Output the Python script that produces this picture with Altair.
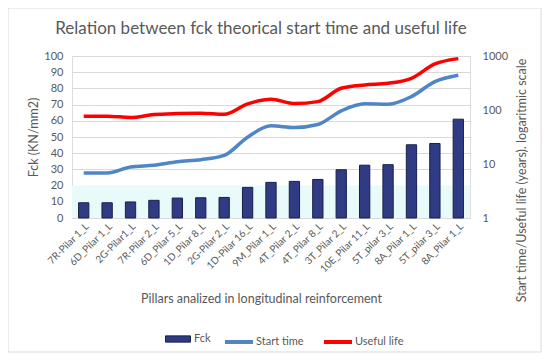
import json
import altair as alt
import pandas as pd

# ---- data ----
pillars = ["7R-Pilar 1_L", "6D_Pilar 1_L", "2G-Pilar1_L", "7R-Pilar 2_L", "6D_Pilar 5_L",
           "1D_Pilar 8_L", "2G-Pilar 2_L", "1D-Pilar 16_L", "9M_Pilar 1_L", "4T_Pilar 2_L",
           "4T_Pilar 8_L", "3T_Pilar 2_L", "10E_Pilar 11_L", "5T_pilar 3_L", "8A_Pilar 1_L",
           "5T_pilar 3_L", "8A_Pilar 1_L"]
fck = [9.4, 9.4, 9.9, 10.9, 12.3, 12.5, 12.7, 18.9, 22.0, 22.6, 23.8, 29.8, 32.6, 32.9, 45.2, 46.0, 61.0]
start_time = [6.8, 6.8, 8.8, 9.5, 11.0, 12.0, 14.4, 31.4, 50.9, 47.4, 53.9, 96.4, 130, 128, 177, 336, 440]
useful_life = [76.8, 76.8, 72.6, 82.5, 86.0, 87.3, 83.6, 130, 158, 132, 143, 253, 291, 313, 387, 713, 894]
band_low, band_high = [0], [20]

keys = [f"{i:02d}" for i in range(len(pillars))]
label_expr = json.dumps(pillars) + "[toNumber(datum.value)]"

bars_df = pd.DataFrame({"key": keys, "Fck": fck, "series": "Fck"})
lines_df = pd.DataFrame({
    "key": keys * 2,
    "value": start_time + useful_life,
    "series": ["Start time"] * len(keys) + ["Useful life"] * len(keys),
})
band_df = pd.DataFrame({"lo": band_low, "hi": band_high})

FONT = "Lato"
GREY = "#595959"

x_scale = alt.Scale(domain=keys, paddingInner=0.56, paddingOuter=0.28)
x_enc = alt.X("key:N", sort=None, scale=x_scale,
              axis=alt.Axis(labelExpr=label_expr, labelAngle=-45, labelFontSize=10, labelColor=GREY,
                            labelFont=FONT, ticks=False, domain=True, domainColor="#d9d9d9",
                            labelPadding=3, title="Pillars analized in longitudinal reinforcement",
                            titleFont=FONT, titleFontSize=12.5, titleColor=GREY, titleFontWeight="normal",
                            titleY=80, titleBaseline="middle", titleX=189))

band = alt.Chart(band_df).mark_rect(color="#e8fafa").encode(
    y=alt.Y("lo:Q", scale=alt.Scale(domain=[0, 100], nice=False), axis=None),
    y2="hi:Q",
)

bars = alt.Chart(bars_df).mark_bar(stroke="#1b1f45", strokeWidth=1).encode(
    x=x_enc,
    y=alt.Y("Fck:Q", scale=alt.Scale(domain=[0, 100], nice=False),
            axis=alt.Axis(orient="left", values=list(range(0, 101, 10)), grid=True, gridColor="#d9d9d9",
                          domain=False, ticks=False, labelFontSize=11, labelColor=GREY, labelFont=FONT,
                          labelPadding=9, title="Fck (KN/mm2)", titleFont=FONT, titleFontSize=12.5,
                          titleColor=GREY, titleFontWeight="normal", titleX=-39, titleBaseline="middle")),
    fill=alt.Fill("series:N", scale=alt.Scale(domain=["Fck"], range=["#2f3c84"]),
                  legend=alt.Legend(title=None, orient="none", legendX=93, legendY=270,
                                    symbolType="M-1,-0.25H1V0.25H-1Z", symbolSize=625,
                                    symbolStrokeColor="#1b1f45", symbolStrokeWidth=1,
                                    labelFont=FONT, labelFontSize=11, labelColor=GREY, labelOffset=3)),
)

lines = alt.Chart(lines_df).mark_line(interpolate="monotone", strokeWidth=3.5).encode(
    x=alt.X("key:N", sort=None, scale=x_scale),
    y=alt.Y("value:Q", scale=alt.Scale(type="log", domain=[1, 1000], nice=False),
            axis=alt.Axis(orient="right", values=[1, 10, 100, 1000], format="d", grid=False,
                          domain=False, ticks=False, labelFontSize=11, labelColor=GREY, labelFont=FONT,
                          labelPadding=12, title="Start time/Useful life (years). logaritmic scale",
                          titleFont=FONT, titleFontSize=12.5, titleColor=GREY, titleFontWeight="normal",
                          titleAngle=270, titleX=51, titleY=124, titleBaseline="middle",
                          titleAlign="center", titleLimit=500)),
    color=alt.Color("series:N", scale=alt.Scale(domain=["Start time", "Useful life"],
                                                 range=["#4f86c6", "#ff0000"]),
                    legend=alt.Legend(title=None, orient="none", legendX=151, legendY=270,
                                      direction="horizontal", symbolType="stroke", symbolSize=784,
                                      symbolStrokeWidth=4, columnPadding=12, labelOffset=1,
                                      labelFont=FONT, labelFontSize=11, labelColor=GREY)),
    detail="series:N",
)

frame = alt.Chart(band_df).mark_rect(fill=None, stroke="#d9d9d9", strokeWidth=1).encode(
    x=alt.value(-64), x2=alt.value(469), y=alt.value(-48), y2=alt.value(296)
)

chart = alt.layer(band, bars, lines, frame).resolve_scale(
    y="independent", color="independent"
).properties(
    width=398, height=162,
    padding={"left": 64, "top": 48, "right": 72, "bottom": 135},
    autosize=alt.AutoSizeParams(type="none"),
    title=alt.TitleParams("Relation between fck theorical start time and useful life", font=FONT,
                          fontSize=17, color=GREY, fontWeight="normal", anchor="middle",
                          offset=0, dy=30, dx=-10),
).configure_view(stroke=None).configure(background="white")

chart.save("out.html", embed_options={"renderer": "svg", "actions": False})
